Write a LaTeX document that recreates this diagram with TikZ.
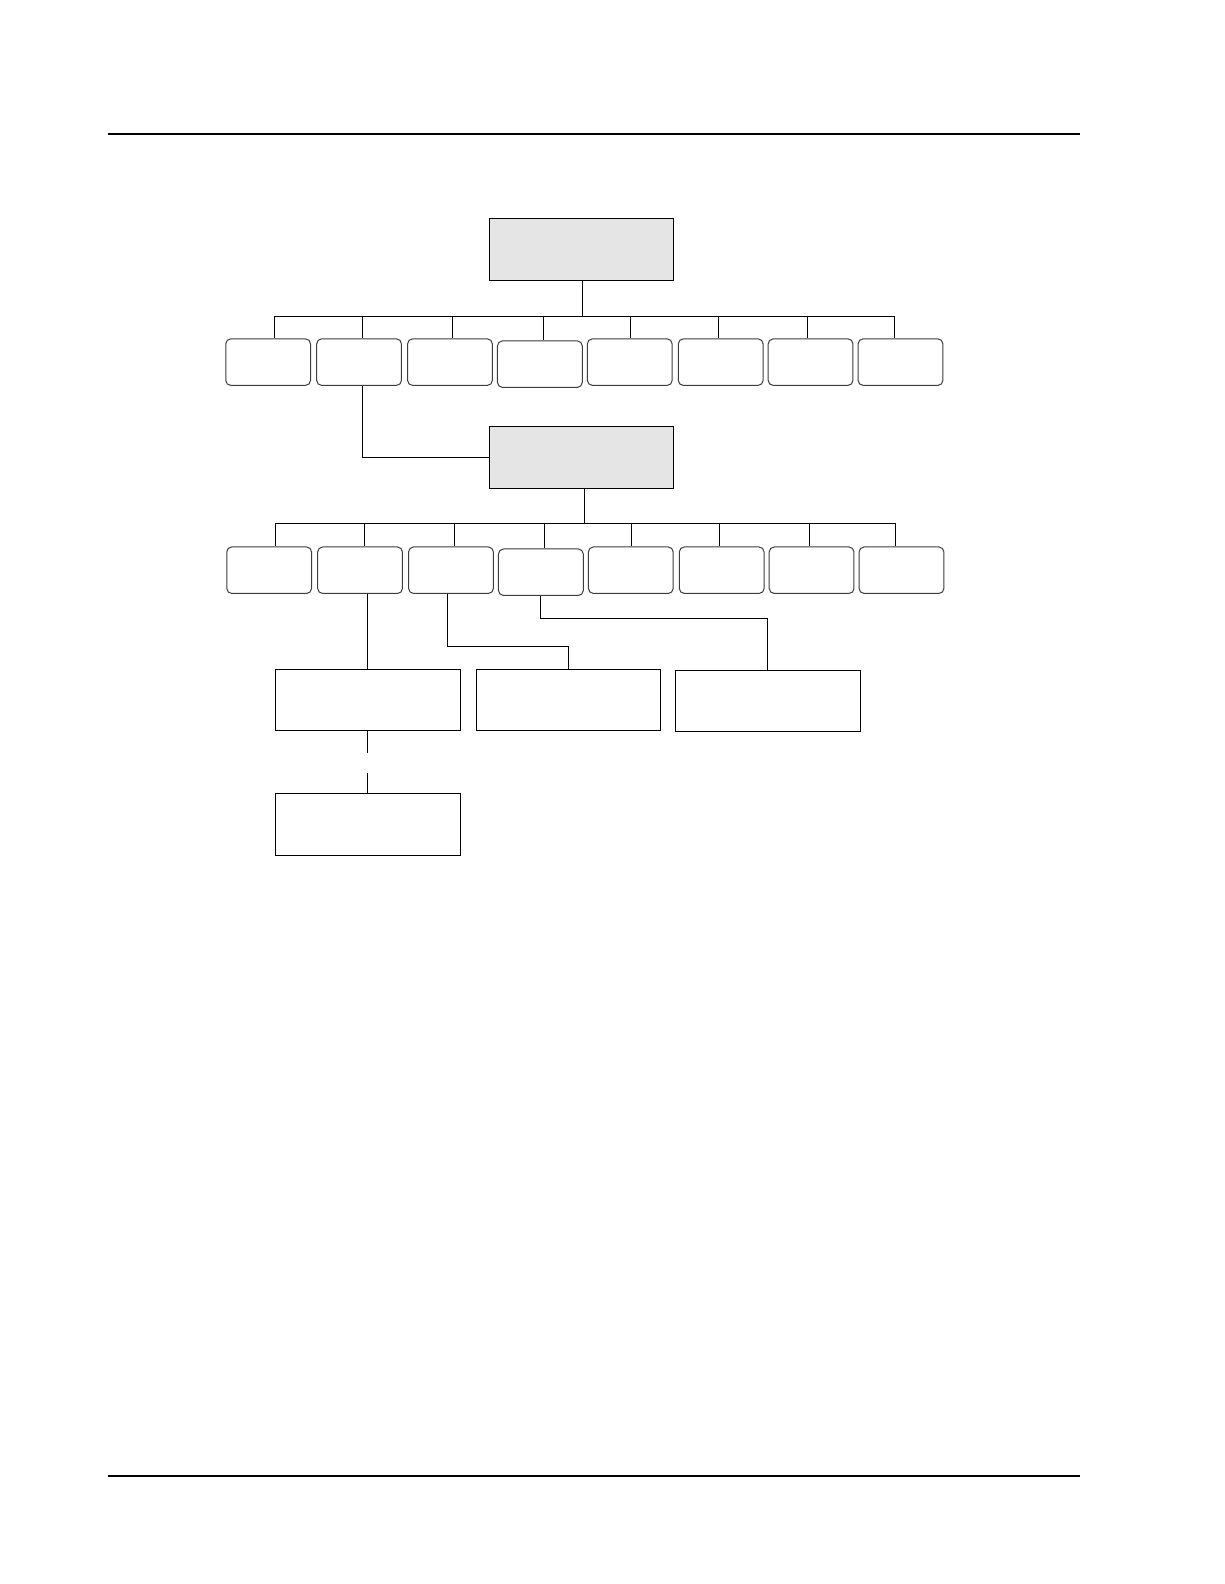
\documentclass[tikz,border=0pt]{standalone}
\usetikzlibrary{calc}
\definecolor{boxgray}{RGB}{229,229,229}
\definecolor{rimgray}{RGB}{60,60,60}
\begin{document}
\begin{tikzpicture}[x=1.0101pt,y=-1.0101pt,
  graybox/.style={draw, fill=boxgray, line width=1pt, inner sep=0pt, anchor=north west, minimum width=183.8pt, minimum height=61.6pt},
  rbox/.style={draw=rimgray, rounded corners=5pt, line width=1pt, inner sep=0pt, anchor=north west, minimum width=84.8pt, minimum height=46.5pt},
  wbox/.style={draw, line width=1pt, inner sep=0pt, anchor=north west, minimum width=184.8pt, minimum height=61.6pt},
  link/.style={line width=1pt},
  rule/.style={line width=2pt}]
\useasboundingbox (0,0) rectangle (1211.76,1568.16);
% page rules
\coordinate (t1) at (107,133); \coordinate (t2) at (1069,133);
\coordinate (u1) at (107,1461); \coordinate (u2) at (1069,1461);
\draw[rule] (t1) -- (t2);
\draw[rule] (u1) -- (u2);
% top level
\node[graybox] (g1) at (484,216) {};
\coordinate (b1) at (577,313);
\draw[link] (g1.south -| b1) -- (b1);
\foreach \i/\x/\y/\o in {1/223/335/6, 2/313/335/3, 3/403/335/3, 4/492/337/4, 5/581/335/1, 6/671/335/-2, 7/760/335/-3, 8/849/335/-6}{
  \node[rbox] (ra\i) at (\x,\y) {};
  \draw[link] (b1) -| ([xshift=\o pt]ra\i.north);
}
% second level
\node[graybox] (g2) at (484,422) {};
\draw[link] ([xshift=3pt]ra2.south) |- (g2.west);
\coordinate (b2) at (579,518);
\draw[link] (g2.south -| b2) -- (b2);
\foreach \i/\x/\y/\o in {1/224/541/6, 2/314/541/4, 3/404/541/4, 4/493/543/4, 5/582/541/1, 6/672/541/-2, 7/761/541/-2, 8/850/541/-6}{
  \node[rbox] (rb\i) at (\x,\y) {};
  \draw[link] (b2) -| ([xshift=\o pt]rb\i.north);
}
% third level
\node[wbox] (A) at (272,662) {};
\node[wbox, minimum width=183.8pt] (B) at (471,662) {};
\node[wbox] (C) at (668,663) {};
\node[wbox] (D) at (272,785) {};
\draw[link] (A.north) -- (A.north |- rb2.south);
\draw[link] ([xshift=-3pt]rb3.south) |- ($(B.north)+(0,-22)$) -- (B.north);
\draw[link] (rb4.south) |- ($(C.north)+(0,-51)$) -- (C.north);
\draw[link] (A.south) -- ++(0,21);
\draw[link] (D.north) -- ++(0,-20);
\end{tikzpicture}
\end{document}
